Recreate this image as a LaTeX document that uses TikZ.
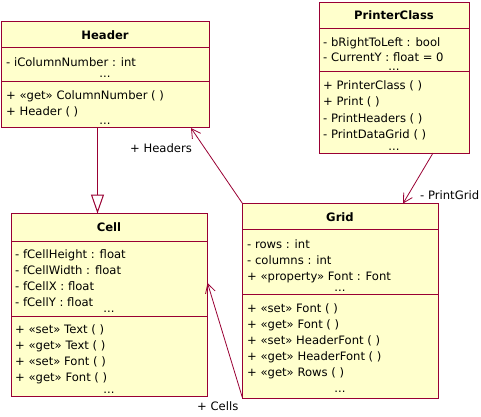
\documentclass[tikz,border=0pt]{standalone}
\usepackage{fontspec}
\setmainfont{DejaVu Sans}
\usetikzlibrary{arrows.meta,calc}
\definecolor{umlborder}{HTML}{990033}
\definecolor{umlfill}{HTML}{FFFFCC}
\begin{document}
\begin{tikzpicture}[x=1pt,y=-1pt,
  cls/.style={draw=umlborder, fill=umlfill, line width=1pt, anchor=north west, inner sep=0pt, outer sep=0pt},
  txt/.style={anchor=base west, inner sep=0pt, font=\fontsize{11.6}{14}\selectfont},
  ttl/.style={anchor=base, inner sep=0pt, font=\fontsize{11.6}{14}\selectfont\bfseries},
  more/.style={anchor=base, inner sep=0pt, text height=2pt, text depth=0pt, font=\fontsize{11.6}{14}\selectfont},
  sepline/.style={draw=umlborder, line width=1pt},
  assoc/.style={draw=umlborder, line width=0.8pt, -{Straight Barb[length=9pt,width=10pt]}},
  gen/.style={draw=umlborder, line width=1pt, -{Triangle[open,length=19pt,width=13pt,fill=white]}},
]
\useasboundingbox (0,0) rectangle (481,416);

% ---------- Header ----------
\node[cls, minimum width=208, minimum height=106] (header) at (1.5,21.5) {};
\draw[sepline] (1.5,47.5) -- (209.5,47.5);
\draw[sepline] (1.5,81.5) -- (209.5,81.5);
\node[ttl] (ht) at (105,39) {Header};
\node[txt] (ha1) at (6,66) {- iColumnNumber : int};
\node[more] (had) at (105,77) {...};
\node[txt] (hm1) at (6,99) {+ «get» ColumnNumber ( )};
\node[txt] (hm2) at (6,115) {+ Header ( )};
\node[more] (hmd) at (105,124) {...};

% ---------- PrinterClass ----------
\node[cls, minimum width=150, minimum height=151] (printer) at (319.5,2.5) {};
\draw[sepline] (319.5,28.5) -- (469.5,28.5);
\draw[sepline] (319.5,71.5) -- (469.5,71.5);
\node[ttl] (pt) at (394,19) {PrinterClass};
\node[txt] (pa1) at (323,46) {- bRightToLeft : bool};
\node[txt] (pa2) at (323,61.5) {- CurrentY : float = 0};
\node[more] (pad) at (394,70) {...};
\node[txt] (pm1) at (323,89) {+ PrinterClass ( )};
\node[txt] (pm2) at (323,105) {+ Print ( )};
\node[txt] (pm3) at (323,122) {- PrintHeaders ( )};
\node[txt] (pm4) at (323,138) {- PrintDataGrid ( )};
\node[more] (pmd) at (394,150) {...};

% ---------- Cell ----------
\node[cls, minimum width=196, minimum height=183] (cell) at (11.5,213.5) {};
\draw[sepline] (11.5,241.5) -- (207.5,241.5);
\draw[sepline] (11.5,316.5) -- (207.5,316.5);
\node[ttl] (ct) at (109,231) {Cell};
\node[txt] (ca1) at (15,258) {- fCellHeight : float};
\node[txt] (ca2) at (15,274) {- fCellWidth  : float};
\node[txt] (ca3) at (15,290) {- fCellX : float};
\node[txt] (ca4) at (15,306) {- fCellY : float};
\node[more] (cad) at (109,312) {...};
\node[txt] (cm1) at (15,333) {+ «set» Text ( )};
\node[txt] (cm2) at (15,349) {+ «get» Text ( )};
\node[txt] (cm3) at (15,365) {+ «set» Font ( )};
\node[txt] (cm4) at (15,381) {+ «get» Font ( )};
\node[more] (cmd) at (109,393) {...};

% ---------- Grid ----------
\node[cls, minimum width=196, minimum height=195] (grid) at (242.5,203.5) {};
\draw[sepline] (242.5,229.5) -- (438.5,229.5);
\draw[sepline] (242.5,294.5) -- (438.5,294.5);
\node[ttl] (gt) at (340,221) {Grid};
\node[txt] (ga1) at (247,248) {- rows : int};
\node[txt] (ga2) at (247,264) {- columns : int};
\node[txt] (ga3) at (247,280) {+ «property» Font : Font};
\node[more] (gad) at (340,291) {...};
\node[txt] (gm1) at (247,312) {+ «set» Font ( )};
\node[txt] (gm2) at (247,328) {+ «get» Font ( )};
\node[txt] (gm3) at (247,344) {+ «set» HeaderFont ( )};
\node[txt] (gm4) at (247,360) {+ «get» HeaderFont ( )};
\node[txt] (gm5) at (247,376) {+ «get» Rows ( )};
\node[more] (gmd) at (340,392) {...};

% ---------- connector end points ----------
\coordinate (hgen) at (97.5,127.5);
\coordinate (cgen) at (97.5,213.5);
\coordinate (hhead) at (191,128);
\coordinate (pgrid) at (433,153);
\coordinate (gtop) at (403,203.5);
\coordinate (ccell) at (207.5,283);
\coordinate (gbot) at (242.5,398);

% ---------- connectors ----------
\draw[gen] (hgen) -- (cgen);
\draw[assoc] (grid.north west) -- (hhead);
\draw[assoc] (pgrid) -- (gtop);
\draw[assoc] (gbot) -- (ccell);

% ---------- labels ----------
\node[txt] (lh) at (130,152) {+ Headers};
\node[txt] (lp) at (420,199) {- PrintGrid};
\node[txt] (lc) at (197,410) {+ Cells};
\end{tikzpicture}
\end{document}
